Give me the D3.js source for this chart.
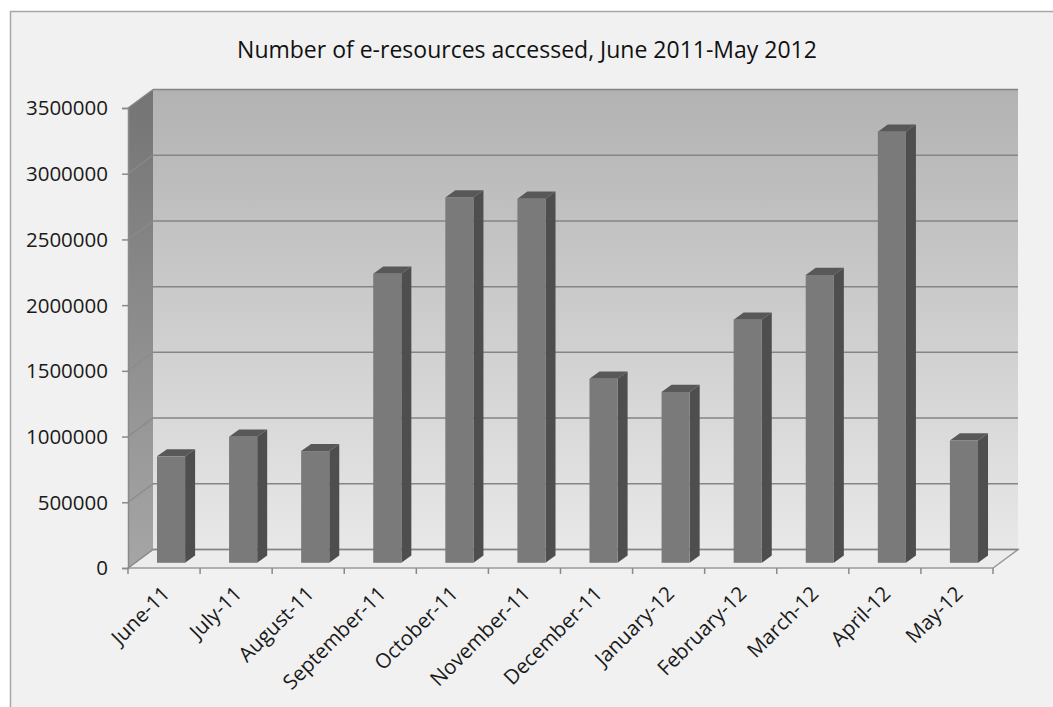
<!DOCTYPE html>
<html><head><meta charset="utf-8">
<script src="https://cdn.jsdelivr.net/npm/d3@7"></script>
<style>html,body{margin:0;padding:0;background:#fff;}svg{display:block;}</style>
</head><body>
<svg id="chart" width="1053" height="707"></svg>
<script>
const categories = ["June-11","July-11","August-11","September-11","October-11","November-11","December-11","January-12","February-12","March-12","April-12","May-12"];
const values = [810000,960000,850000,2200000,2780000,2770000,1400000,1300000,1850000,2190000,3280000,930000];
const yTicks = [0,500000,1000000,1500000,2000000,2500000,3000000,3500000];
const title = "Number of e-resources accessed, June 2011-May 2012";

const svg = d3.select("#chart");
const X0 = 128, X1 = 993, Y0 = 568, Y1 = 108;
const DX = 25, DY = -18.5;          // depth of plot box
const BX = 7, BY = -5.2;            // bar front-plane shift
const BDX = 10, BDY = -7.2;         // bar depth

const x = d3.scaleBand().domain(categories).range([X0, X1]).paddingInner(0.61).paddingOuter(0.305);
const y = d3.scaleLinear().domain([0, 3500000]).range([Y0, Y1]);

const defs = svg.append("defs");
const g1 = defs.append("linearGradient").attr("id","back").attr("x1",0).attr("y1",0).attr("x2",0).attr("y2",1);
g1.append("stop").attr("offset","0%").attr("stop-color","#b2b2b2");
g1.append("stop").attr("offset","100%").attr("stop-color","#e8e8e8");
const g2 = defs.append("linearGradient").attr("id","side").attr("x1",0).attr("y1",0).attr("x2",0).attr("y2",1);
g2.append("stop").attr("offset","0%").attr("stop-color","#747474");
g2.append("stop").attr("offset","100%").attr("stop-color","#a6a6a6");

// frame
svg.append("rect").attr("x",10.5).attr("y",11.5).attr("width",1050).attr("height",720)
  .attr("fill","#f1f1f1").attr("stroke","#a8a8a8").attr("stroke-width",1.5);

// title
svg.append("text").attr("x",527).attr("y",58).attr("text-anchor","middle")
  .attr("font-family","Open Sans").attr("font-size",23).attr("fill","#111").text(title);

// back wall
svg.append("rect").attr("x",X0+DX).attr("y",Y1+DY).attr("width",X1-X0).attr("height",Y0-Y1)
  .attr("fill","url(#back)");
// side wall
svg.append("path").attr("d",`M${X0},${Y1}L${X0+DX},${Y1+DY}L${X0+DX},${Y0+DY}L${X0},${Y0}Z`)
  .attr("fill","url(#side)");
// floor
svg.append("path").attr("d",`M${X0},${Y0}L${X0+DX},${Y0+DY}L${X1+DX},${Y0+DY}L${X1},${Y0}Z`)
  .attr("fill","#ececec").attr("stroke","#9a9a9a").attr("stroke-width",1.5);

// gridlines
const grid = svg.append("g");
yTicks.forEach(t => {
  const yy = y(t);
  grid.append("line").attr("x1",X0+DX).attr("x2",X1+DX).attr("y1",yy+DY).attr("y2",yy+DY)
    .attr("stroke","#858585").attr("stroke-width",1.5);
  grid.append("line").attr("x1",X0).attr("x2",X0+DX).attr("y1",yy).attr("y2",yy+DY)
    .attr("stroke","#8a8a8a").attr("stroke-width",1.2);
});

// bars
const bars = svg.append("g").selectAll("g").data(categories).join("g");
bars.each(function(c,i){
  const gg = d3.select(this);
  const xl = x(c) + BX, xr = x(c) + x.bandwidth() + BX;
  const yt = y(values[i]) + BY, yb = y(0) + BY;
  gg.append("path").attr("d",`M${xr},${yt}L${xr+BDX},${yt+BDY}L${xr+BDX},${yb+BDY}L${xr},${yb}Z`).attr("fill","#4e4e4e");
  gg.append("path").attr("d",`M${xl},${yt}L${xl+BDX},${yt+BDY}L${xr+BDX},${yt+BDY}L${xr},${yt}Z`).attr("fill","#585858");
  gg.append("rect").attr("x",xl).attr("y",yt).attr("width",xr-xl).attr("height",yb-yt).attr("fill","#7a7a7a");
});

// y axis
const yAxis = svg.append("g").attr("transform",`translate(${X0},0)`)
  .call(d3.axisLeft(y).tickValues(yTicks).tickFormat(d3.format("d")).tickSize(6).tickPadding(14));
yAxis.select(".domain").attr("stroke","#8a8a8a").attr("stroke-width",1.5);
yAxis.selectAll(".tick line").attr("stroke","#8a8a8a").attr("stroke-width",1.5);
yAxis.selectAll("text").attr("font-family","Open Sans").attr("font-size",20.5).attr("fill","#1a1a1a").attr("dy","0.34em");

// x axis
const xAxis = svg.append("g").attr("transform",`translate(0,${Y0})`)
  .call(d3.axisBottom(x).tickSize(0).tickFormat(d=>d));
xAxis.select(".domain").remove();
const xb = x.step();
categories.concat(["end"]).forEach((c,i)=>{
  const xx = X0 + i*xb;
  xAxis.append("line").attr("x1",xx).attr("x2",xx).attr("y1",0).attr("y2",6).attr("stroke","#8a8a8a").attr("stroke-width",1.5);
});
xAxis.selectAll(".tick text")
  .attr("font-family","Open Sans").attr("font-size",20.5).attr("fill","#1a1a1a")
  .attr("text-anchor","end").attr("dy",0).attr("y",0)
  .attr("transform","translate(7,27) rotate(-45)");
</script>
</body></html>
